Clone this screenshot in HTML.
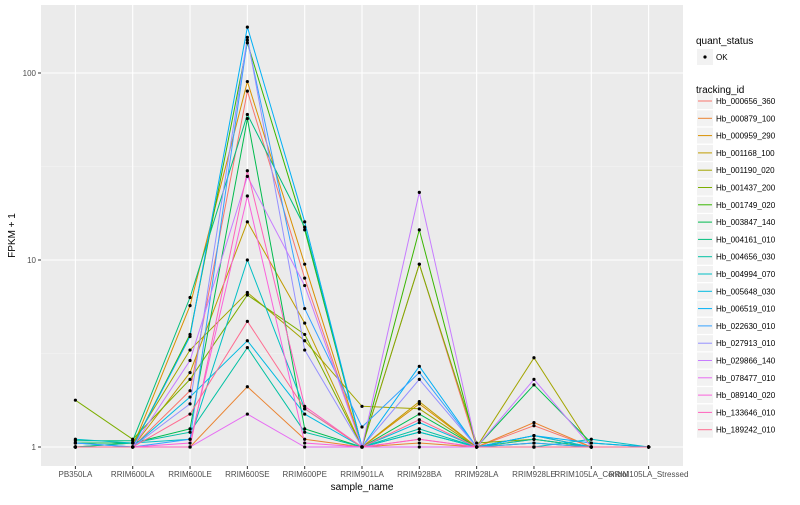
<!DOCTYPE html>
<html><head><meta charset="utf-8"><style>
body{margin:0;background:#fff;font-family:"Liberation Sans",sans-serif;}
svg text{font-family:"Liberation Sans",sans-serif;}
</style></head><body>
<svg id="chart" width="800" height="500"></svg>
<script>
const categories=["PB350LA","RRIM600LA","RRIM600LE","RRIM600SE","RRIM600PE","RRIM901LA","RRIM928BA","RRIM928LA","RRIM928LE","RRIM105LA_Control","RRIM105LA_Stressed"];
const seriesNames=["Hb_000656_360","Hb_000879_100","Hb_000959_290","Hb_001168_100","Hb_001190_020","Hb_001437_200","Hb_001749_020","Hb_003847_140","Hb_004161_010","Hb_004656_030","Hb_004994_070","Hb_005648_030","Hb_006519_010","Hb_022630_010","Hb_027913_010","Hb_029866_140","Hb_078477_010","Hb_089140_020","Hb_133646_010","Hb_189242_010"];
const seriesColors=["#F8766D","#EA8331","#D89000","#C09B00","#A3A500","#7CAE00","#39B600","#00BB4E","#00BF7D","#00C1A3","#00BFC4","#00BAE0","#00B0F6","#35A2FF","#9590FF","#C77CFF","#E76BF3","#FA62DB","#FF62BC","#FF6C91"];
const s1=[1,1,2.0,80,8,1,9.5,1,1.3,1,1];
const s2=[1,1,1,2.1,1.1,1,1.05,1,1.35,1,1];
const s3=[1,1,5.7,90,9.5,1,1.7,1,1.15,1,1];
const s4=[1,1,2.5,16,4.6,1,1.75,1,1.1,1,1];
const s5=[1,1.05,3.3,6.7,3.7,1.65,1.6,1,3.0,1,1];
const s6=[1.78,1.1,2.3,6.5,4,1,9.5,1.05,1.1,1,1];
const s7=[1,1,4.0,145,14.5,1,14.5,1,1.05,1,1];
const s8=[1.05,1.05,1.25,57,1.25,1,1.5,1,2.15,1.05,1];
const s9=[1.08,1.08,6.3,60,15,1,1.2,1,1,1,1];
const s10=[1,1.05,1.2,3.4,1.2,1,1.25,1,1.1,1,1];
const s11=[1.1,1.05,1.1,10,1.6,1,1.2,1,1,1.1,1];
const s12=[1,1,1.85,3.7,1.5,1,1.35,1,1.15,1,1];
const s13=[1.05,1,3.9,176,16,1,2.7,1,1.15,1.05,1];
const s14=[1.05,1,1.1,150,5.5,1.28,2.5,1,1.05,1,1];
const s15=[1,1,1.7,155,3.3,1,2.3,1,1,1,1];
const s16=[1,1,2.9,28,7.3,1,23,1,2.3,1,1];
const s17=[1,1,1,1.5,1.0,1,1.0,1,1,1,1];
const s18=[1,1,1.05,22,1.05,1,1.1,1,1,1,1];
const s19=[1,1,1,30,1.65,1,1.1,1,1,1,1];
const s20=[1,1,1.5,4.7,1.6,1,1.4,1,1,1,1];
const seriesValues=[s1,s2,s3,s4,s5,s6,s7,s8,s9,s10,s11,s12,s13,s14,s15,s16,s17,s18,s19,s20];
const yTicks=[1,10,100];
const yTickLabels=["1","10","100"];

const NS="http://www.w3.org/2000/svg";
const svg=document.getElementById('chart');
const PL=41,PR=683,PT=5,PB=466;
const step=(PR-PL)/(categories.length-1+1.2);
function xs(i){return PL+step*(0.6+i);}
function ys(v){return 447-Math.log10(v)*187;}
function mk(tag,attrs,parent){const e=document.createElementNS(NS,tag);for(const k in attrs)e.setAttribute(k,attrs[k]);(parent||svg).appendChild(e);return e;}

const panel=mk('rect',{x:PL,y:PT,width:PR-PL,height:PB-PT,fill:'#EBEBEB'});


[-0.5,0.5,1.5,2.5].forEach(e=>{const y=447-e*187;if(y>PT&&y<PB){const l=mk('line',{x1:PL,x2:PR,y1:y,y2:y,stroke:'#F5F5F5','stroke-width':0.6});

}});
yTicks.forEach((t,i)=>{const y=ys(t);
const l=mk('line',{x1:PL,x2:PR,y1:y,y2:y,stroke:'#fff','stroke-width':1.1});


mk('line',{x1:PL-3,x2:PL,y1:y,y2:y,stroke:'#333','stroke-width':1});
const tx=mk('text',{x:PL-5,y:y+3,'text-anchor':'end','font-size':8,fill:'#4D4D4D'});tx.textContent=yTickLabels[i];

});
categories.forEach((c,i)=>{const x=xs(i);
const l=mk('line',{x1:x,x2:x,y1:PT,y2:PB,stroke:'#fff','stroke-width':1.1});


mk('line',{x1:x,x2:x,y1:PB,y2:PB+3,stroke:'#333','stroke-width':1});
const tx=mk('text',{x:x,y:PB+11,'text-anchor':'middle','font-size':8,fill:'#4D4D4D'});tx.textContent=c;

});
seriesValues.forEach((vals,si)=>{
const pts=vals.map((v,i)=>xs(i).toFixed(1)+','+ys(v).toFixed(1)).join(' ');
const pl=mk('polyline',{points:pts,fill:'none',stroke:seriesColors[si],'stroke-width':1});

});
seriesValues.forEach((vals,si)=>{vals.forEach((v,i)=>{
const c=mk('circle',{cx:xs(i),cy:ys(v),r:1.6,fill:'#000'});

});});
const xt=mk('text',{x:(PL+PR)/2,y:490,'text-anchor':'middle','font-size':10,fill:'#000'});xt.textContent='sample_name';


const yt=mk('text',{x:0,y:0,'text-anchor':'middle','font-size':10,fill:'#000',transform:'translate(15,'+((PT+PB)/2)+') rotate(-90)'});yt.textContent='FPKM + 1';


const t1=mk('text',{x:696,y:44,'font-size':10,fill:'#000'});t1.textContent='quant_status';


mk('rect',{x:697,y:49,width:16,height:16,fill:'#F2F2F2'});
mk('circle',{cx:705,cy:57,r:1.6,fill:'#000'});
const ok=mk('text',{x:716,y:60,'font-size':8,fill:'#000'});ok.textContent='OK';


const t2=mk('text',{x:696,y:93,'font-size':10,fill:'#000'});t2.textContent='tracking_id';


seriesNames.forEach((n,i)=>{const y=94+i*17.3;
const g=mk('g',{});


mk('rect',{x:697,y:y-1,width:16,height:16,fill:'#F2F2F2'},g);
mk('line',{x1:698,x2:712,y1:y+7,y2:y+7,stroke:seriesColors[i],'stroke-width':1},g);
const tx=mk('text',{x:716,y:y+10,'font-size':8,fill:'#000'},g);tx.textContent=n;});
</script>
</body></html>
